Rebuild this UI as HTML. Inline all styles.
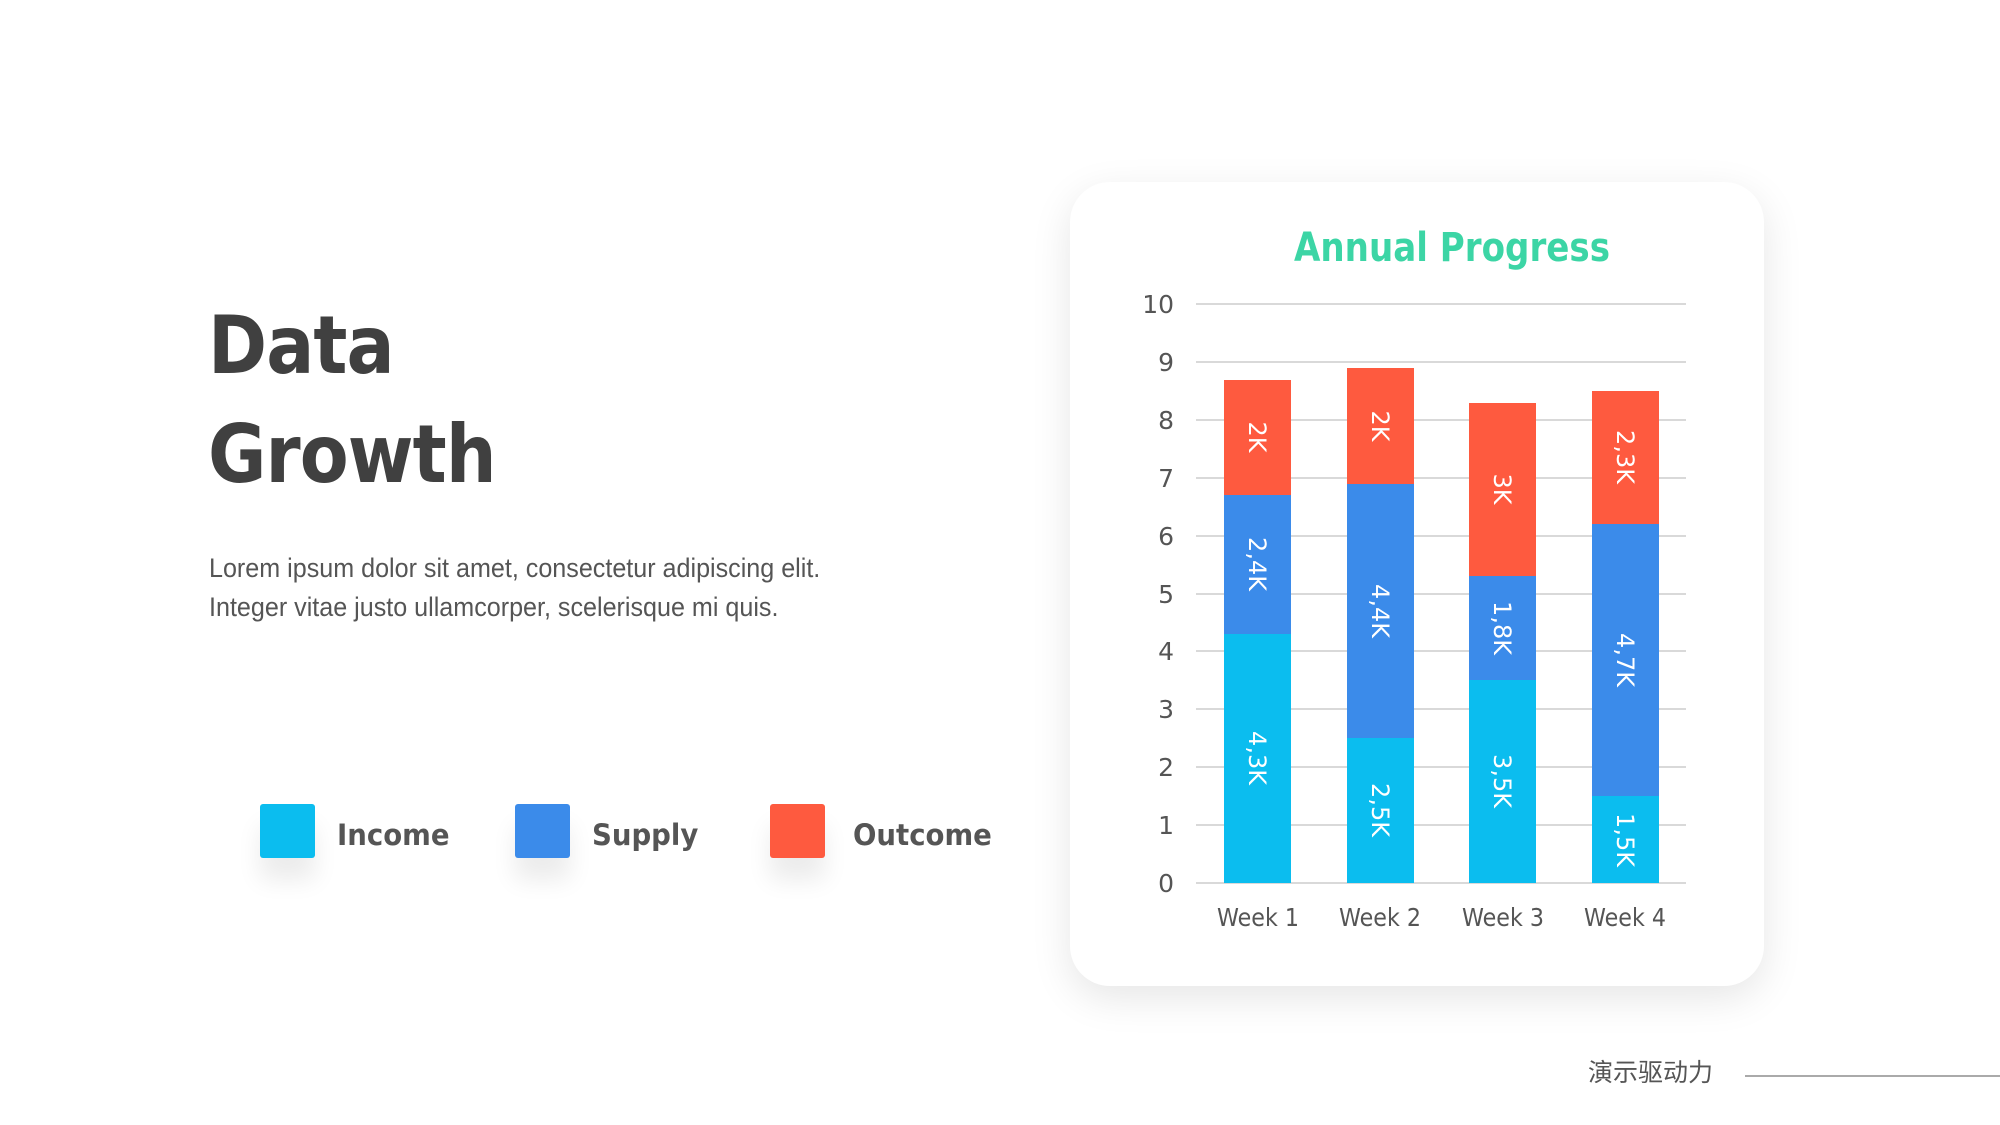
<!DOCTYPE html>
<html><head><meta charset="utf-8"><style>
body{margin:0;width:2000px;height:1125px;background:#fff;overflow:hidden;position:relative;font-family:"DejaVu Sans","Liberation Sans",sans-serif}
.abs{position:absolute}
.card{left:1070px;top:182px;width:694px;height:804px;background:#fff;border-radius:40px;box-shadow:0 12px 40px rgba(0,0,0,0.10)}
.h{left:208px;color:#404040;font-weight:bold;font-size:80px;letter-spacing:-1px;transform:scaleX(0.89);transform-origin:0 0}
.p{left:209px;color:#555;font-family:"Liberation Sans",sans-serif;font-size:27px;transform:scaleX(0.93);transform-origin:0 0}
.sq{width:55px;height:54px;border-radius:3px;top:804px;box-shadow:0 22px 24px rgba(0,0,0,0.08)}
.lt{top:818px;font-size:29px;font-weight:bold;color:#555;transform:scaleX(0.95);transform-origin:0 0}
</style></head><body>
<div class="abs card"></div>
<div class="abs h" style="top:299px">Data</div>
<div class="abs h" style="top:408px">Growth</div>
<div class="abs p" style="top:553px">Lorem ipsum dolor sit amet, consectetur adipiscing elit.</div>
<div class="abs p" style="top:592px">Integer vitae justo ullamcorper, scelerisque mi quis.</div>
<div class="abs sq" style="left:260px;background:#0bbdef"></div>
<div class="abs lt" style="left:337px">Income</div>
<div class="abs sq" style="left:515px;background:#3b8bea"></div>
<div class="abs lt" style="left:592px">Supply</div>
<div class="abs sq" style="left:770px;background:#fe5a3f"></div>
<div class="abs lt" style="left:853px">Outcome</div>
<div class="abs" style="left:1588px;top:1053px;font-size:25px;color:#555;font-family:'Noto Sans CJK SC',sans-serif">演示驱动力</div>
<div class="abs" style="left:1745px;top:1075px;width:255px;height:2px;background:#aaa"></div>
<svg class="abs" style="left:0;top:0" width="2000" height="1125">
<text x="1452" y="261" text-anchor="middle" font-size="40" font-weight="bold" fill="#3cd5a5" font-family="DejaVu Sans" textLength="316" lengthAdjust="spacingAndGlyphs">Annual Progress</text>
<g stroke="#d9d9d9" stroke-width="2">
<line x1="1196" x2="1686" y1="304" y2="304"/><line x1="1196" x2="1686" y1="362" y2="362"/><line x1="1196" x2="1686" y1="420" y2="420"/><line x1="1196" x2="1686" y1="478" y2="478"/><line x1="1196" x2="1686" y1="536" y2="536"/><line x1="1196" x2="1686" y1="594" y2="594"/><line x1="1196" x2="1686" y1="651" y2="651"/><line x1="1196" x2="1686" y1="709" y2="709"/><line x1="1196" x2="1686" y1="767" y2="767"/><line x1="1196" x2="1686" y1="825" y2="825"/><line x1="1196" x2="1686" y1="883" y2="883"/>
</g>
<g font-size="25" fill="#555" text-anchor="end" font-family="DejaVu Sans">
<text x="1174" y="313">10</text><text x="1174" y="371">9</text><text x="1174" y="429">8</text><text x="1174" y="487">7</text><text x="1174" y="545">6</text><text x="1174" y="603">5</text><text x="1174" y="660">4</text><text x="1174" y="718">3</text><text x="1174" y="776">2</text><text x="1174" y="834">1</text><text x="1174" y="892">0</text>
</g>
<g font-size="25" fill="#555" text-anchor="middle" font-family="DejaVu Sans">
<text x="1258" y="926" textLength="82" lengthAdjust="spacingAndGlyphs">Week 1</text><text x="1380" y="926" textLength="82" lengthAdjust="spacingAndGlyphs">Week 2</text><text x="1503" y="926" textLength="82" lengthAdjust="spacingAndGlyphs">Week 3</text><text x="1625" y="926" textLength="82" lengthAdjust="spacingAndGlyphs">Week 4</text>
</g>
<g font-size="24" fill="#fff" font-family="DejaVu Sans">
<rect x="1224" y="634" width="67" height="249" fill="#0bbdef"/>
<rect x="1224" y="495" width="67" height="139" fill="#3b8bea"/>
<rect x="1224" y="380" width="67" height="115" fill="#fe5a3f"/>
<rect x="1347" y="738" width="67" height="145" fill="#0bbdef"/>
<rect x="1347" y="484" width="67" height="254" fill="#3b8bea"/>
<rect x="1347" y="368" width="67" height="116" fill="#fe5a3f"/>
<rect x="1469" y="680" width="67" height="203" fill="#0bbdef"/>
<rect x="1469" y="576" width="67" height="104" fill="#3b8bea"/>
<rect x="1469" y="403" width="67" height="173" fill="#fe5a3f"/>
<rect x="1592" y="796" width="67" height="87" fill="#0bbdef"/>
<rect x="1592" y="524" width="67" height="272" fill="#3b8bea"/>
<rect x="1592" y="391" width="67" height="133" fill="#fe5a3f"/>
<g text-anchor="middle">
<text transform="translate(1249,758) rotate(90)">4,3K</text>
<text transform="translate(1249,564) rotate(90)">2,4K</text>
<text transform="translate(1249,437) rotate(90)">2K</text>
<text transform="translate(1372,810) rotate(90)">2,5K</text>
<text transform="translate(1372,611) rotate(90)">4,4K</text>
<text transform="translate(1372,426) rotate(90)">2K</text>
<text transform="translate(1494,781) rotate(90)">3,5K</text>
<text transform="translate(1494,628) rotate(90)">1,8K</text>
<text transform="translate(1494,489) rotate(90)">3K</text>
<text transform="translate(1617,840) rotate(90)">1,5K</text>
<text transform="translate(1617,660) rotate(90)">4,7K</text>
<text transform="translate(1617,457) rotate(90)">2,3K</text>
</g></g>
</svg>
</body></html>
